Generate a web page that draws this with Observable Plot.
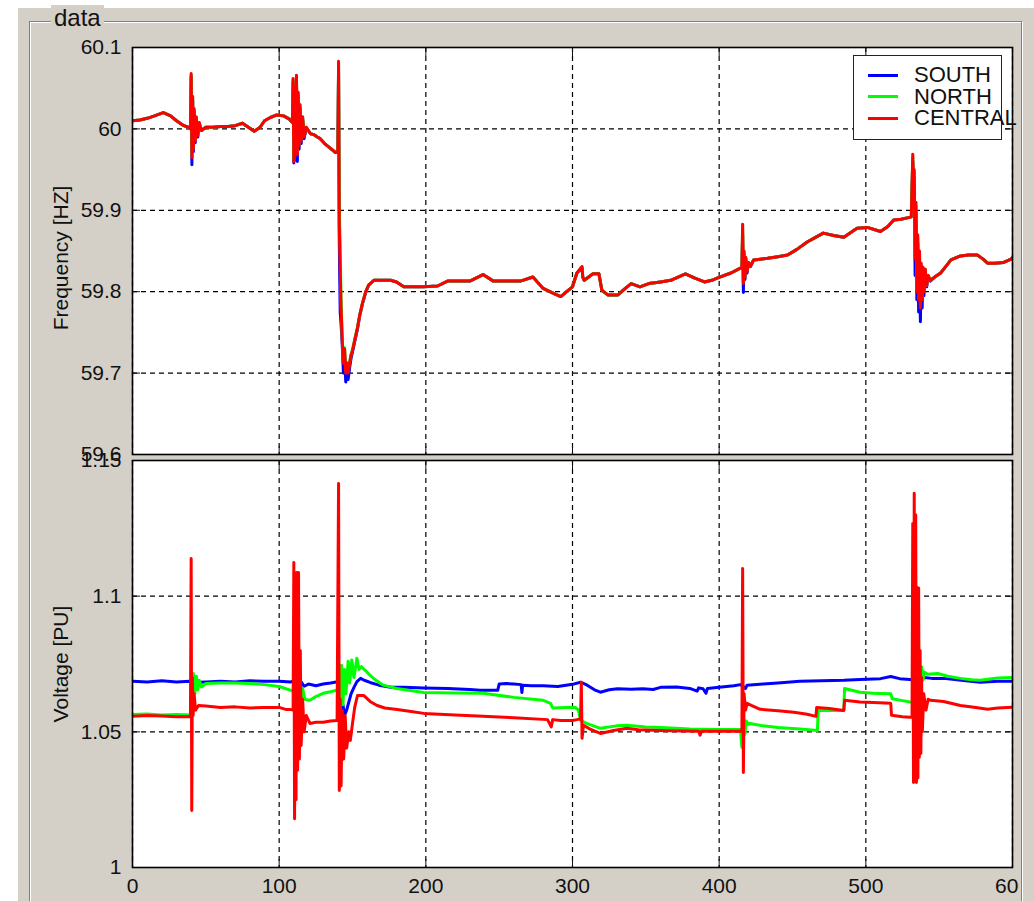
<!DOCTYPE html>
<html>
<head>
<meta charset="utf-8">
<script src="https://cdn.jsdelivr.net/npm/d3@7"></script>
<script src="https://cdn.jsdelivr.net/npm/@observablehq/plot@0.6"></script>
<style>
  html, body { margin: 0; padding: 0; background: #fff; }
  #root { position: relative; width: 1034px; height: 901px; overflow: hidden; background: #fff;
          font-family: "Liberation Sans", Arial, sans-serif; }
  #panel { position: absolute; left: 18px; top: 8px; right: 0; bottom: 0; background: #d4d0c8; }
  #group { position: absolute; left: 29px; top: 21px; width: 991px; height: 900px;
           border: 1px solid #808080; box-shadow: inset 1px 1px 0 #fff, 1px 1px 0 #fff; }
  #grouplabel { position: absolute; left: 51px; top: 5px; padding: 0 3px; background: #d4d0c8;
                font-size: 24px; line-height: 26px; color: #111; }
  #clip { position: absolute; left: 0; top: 0; width: 1019px; height: 901px; overflow: hidden; }
  .plot { position: absolute; left: 0; max-width: none !important; }
  .ylab { position: absolute; font-size: 21px; color: #111; white-space: nowrap;
          transform-origin: center center; }
  #legend { position: absolute; left: 853px; top: 55px; width: 147px; height: 83px;
            background: #fff; border: 1.5px solid #222; }
  .li { position: absolute; left: 60px; font-size: 22px; line-height: 20px; color: #111; white-space: nowrap; }
  .sw { position: absolute; left: 14px; width: 30px; height: 3px; }
</style>
</head>
<body>
<div id="root">
  <div id="panel"></div>
  <div id="group"></div>
  <div id="grouplabel">data</div>
  <div id="clip"></div>
</div>
<script>
// ---------------- data ----------------
const seriesNames = ["SOUTH", "NORTH", "CENTRAL"];
const seriesColors = ["#0000ff", "#00ff00", "#ff0000"];

const xTicks = [0, 100, 200, 300, 400, 500, 600];
const xTickLabels = ["0", "100", "200", "300", "400", "500", "600"];
const freqTicks = [59.6, 59.7, 59.8, 59.9, 60, 60.1];
const freqTickLabels = ["59.6", "59.7", "59.8", "59.9", "60", "60.1"];
const voltTicks = [1, 1.05, 1.1, 1.15];
const voltTickLabels = ["1", "1.05", "1.1", "1.15"];

// Frequency [HZ] - sample times (shared by the three regions)
const freqTime = [
  0,5,10,15,21,26,30,35,38,39.5,
  40,40.5,41,41.5,42,42.8,43.5,44.5,45.5,47,
  50,55,60,65,70,75,79,83,87,90,94,98,103,107,
  109,109.5,110,110.6,111.2,111.8,112.4,113,113.6,114.2,115,116,117,118.5,
  121.4,123.5,126,128,131,135,138.4,
  140,140.5,141,141.6,142.2,143,143.8,144.6,145.4,146.2,
  147,148,149,150,151.7,153.4,155,156.8,159,161,164.6,176,180,185,192,198.6,208,214.8,230,239,246,258,264.5,273,280,287,292,296,300,303,
  306.5,307,308,314,318,320,324,331,336,340,346,352,360,367,372,377,383,390,395,399,408,414.5,
  415.5,416,416.5,417,417.6,418.2,419,420,421.5,
  423.5,428,433,440,446.6,453,460,466,471,478,485,494,501,510,515,519,524,529,531,
  532,532.5,533,533.6,534.2,534.8,535.4,536,536.6,537.2,537.8,538.4,539,539.6,
  540.5,541.5,542.5,544,547,551,555,558,564.5,570,576,580,583,588,594,599,600];
// CENTRAL
const freqCentral = [
  60.010,60.011,60.013,60.016,60.020,60.016,60.010,60.004,60.002,60.000,
  60.068,59.965,60.040,59.975,60.025,59.985,60.015,59.992,60.008,59.998,
  60.002,60.002,60.003,60.003,60.004,60.007,60.002,59.997,60.002,60.010,60.014,60.017,60.016,60.012,
  60.008,60.062,59.960,60.050,59.970,60.066,59.968,60.045,59.980,60.030,59.985,60.015,59.990,60.002,
  59.994,59.993,59.990,59.988,59.982,59.976,59.971,
  59.972,60.083,59.880,59.830,59.780,59.740,59.712,59.730,59.700,59.712,
  59.700,59.712,59.722,59.728,59.742,59.756,59.772,59.786,59.800,59.808,59.814,59.814,59.812,59.806,59.806,59.806,59.807,59.813,59.813,59.821,59.813,59.813,59.813,59.818,59.804,59.798,59.794,59.800,59.806,59.823,
  59.831,59.818,59.814,59.822,59.822,59.802,59.796,59.796,59.804,59.810,59.806,59.810,59.812,59.814,59.818,59.822,59.817,59.812,59.814,59.817,59.823,59.829,
  59.830,59.883,59.810,59.850,59.818,59.842,59.825,59.836,59.832,
  59.839,59.840,59.841,59.843,59.845,59.852,59.861,59.867,59.872,59.869,59.867,59.878,59.879,59.874,59.880,59.888,59.889,59.891,59.892,
  59.969,59.930,59.950,59.840,59.910,59.800,59.870,59.790,59.850,59.780,59.835,59.790,59.830,59.800,
  59.828,59.808,59.820,59.814,59.818,59.823,59.832,59.839,59.844,59.845,59.845,59.840,59.835,59.835,59.836,59.840,59.842];
// SOUTH (dips a little deeper during the disturbances)
const freqSouth = [
  60.010,60.011,60.013,60.016,60.020,60.016,60.010,60.004,60.002,60.000,
  60.064,59.956,60.036,59.972,60.022,59.983,60.012,59.990,60.006,59.998,
  60.002,60.002,60.003,60.003,60.004,60.007,60.002,59.997,60.002,60.010,60.014,60.017,60.016,60.012,
  60.008,60.058,59.958,60.046,59.962,60.060,59.960,60.040,59.975,60.026,59.982,60.012,59.988,60.001,
  59.994,59.993,59.990,59.988,59.982,59.976,59.971,
  59.972,60.070,59.860,59.775,59.760,59.735,59.700,59.722,59.689,59.705,
  59.692,59.706,59.718,59.726,59.740,59.754,59.771,59.785,59.799,59.808,59.814,59.814,59.812,59.806,59.806,59.806,59.807,59.813,59.813,59.821,59.813,59.813,59.813,59.818,59.804,59.798,59.794,59.800,59.806,59.823,
  59.829,59.818,59.814,59.822,59.822,59.802,59.796,59.796,59.804,59.810,59.806,59.810,59.812,59.814,59.818,59.822,59.817,59.812,59.814,59.817,59.823,59.829,
  59.829,59.870,59.799,59.845,59.815,59.838,59.823,59.834,59.831,
  59.839,59.840,59.841,59.843,59.845,59.852,59.861,59.867,59.872,59.869,59.867,59.878,59.879,59.874,59.880,59.888,59.889,59.891,59.892,
  59.960,59.920,59.940,59.820,59.900,59.790,59.860,59.775,59.840,59.763,59.825,59.780,59.822,59.795,
  59.824,59.806,59.818,59.813,59.818,59.823,59.832,59.839,59.844,59.845,59.845,59.840,59.835,59.835,59.836,59.840,59.842];
// NORTH
const freqNorth = [
  60.010,60.011,60.013,60.016,60.020,60.016,60.010,60.004,60.002,60.000,
  60.066,59.967,60.038,59.976,60.024,59.986,60.014,59.993,60.007,59.998,
  60.002,60.002,60.003,60.003,60.004,60.007,60.002,59.997,60.002,60.010,60.014,60.017,60.016,60.012,
  60.008,60.060,59.962,60.048,59.972,60.064,59.970,60.043,59.981,60.029,59.986,60.014,59.991,60.002,
  59.994,59.993,59.990,59.988,59.982,59.976,59.971,
  59.972,60.078,59.900,59.860,59.790,59.745,59.714,59.731,59.703,59.713,
  59.702,59.713,59.723,59.729,59.743,59.756,59.772,59.786,59.800,59.808,59.814,59.814,59.812,59.806,59.806,59.806,59.807,59.813,59.813,59.821,59.813,59.813,59.813,59.818,59.804,59.798,59.794,59.800,59.806,59.823,
  59.830,59.818,59.814,59.822,59.822,59.802,59.796,59.796,59.804,59.810,59.806,59.810,59.812,59.814,59.818,59.822,59.817,59.812,59.814,59.817,59.823,59.829,
  59.830,59.878,59.812,59.848,59.819,59.841,59.826,59.836,59.832,
  59.839,59.840,59.841,59.843,59.845,59.852,59.861,59.867,59.872,59.869,59.867,59.878,59.879,59.874,59.880,59.888,59.889,59.891,59.892,
  59.965,59.928,59.946,59.842,59.905,59.802,59.866,59.792,59.846,59.784,59.832,59.792,59.828,59.801,
  59.827,59.808,59.820,59.814,59.818,59.823,59.832,59.839,59.844,59.845,59.845,59.840,59.835,59.835,59.836,59.840,59.842];

// Voltage [PU] - SOUTH
const voltSouthT = [0,10,20,30,39,41,50,60,70,80,90,100,108,111,113,115,117,120,125,130,135,139,140.5,141.5,142.5,143.5,144.5,146,147.5,149,151,153,155.5,158,162,168,176,185,198.6,215,230,237,249,250,255,260,265,265.5,266,272,280,290,300,305.5,310,315,319,325,330.7,340,348,355,360,371,380,385,386,389,391,392,400,410,414.5,416,418,419,430,440,455,470,485,496,510,517,523,530,535,540,545,553,565,578,590,600];
const voltSouthV = [1.0686,1.0684,1.0688,1.0684,1.0686,1.0682,1.0684,1.0686,1.0684,1.0688,1.0686,1.0686,1.0684,1.0690,1.0672,1.0684,1.0668,1.0676,1.0670,1.0676,1.0680,1.0684,1.0682,1.0560,1.0545,1.0600,1.0560,1.0580,1.0610,1.0640,1.0664,1.0685,1.0697,1.0690,1.0682,1.0672,1.0664,1.0664,1.0662,1.0660,1.0656,1.0653,1.0653,1.0676,1.0678,1.0676,1.0674,1.0645,1.0672,1.0670,1.0670,1.0667,1.0675,1.0683,1.0672,1.0655,1.0646,1.0655,1.0659,1.0657,1.0659,1.0656,1.0664,1.0665,1.0660,1.0650,1.0662,1.0659,1.0642,1.0660,1.0664,1.0670,1.0674,1.0668,1.0660,1.0672,1.0676,1.0680,1.0686,1.0688,1.0690,1.0693,1.0696,1.0704,1.0696,1.0693,1.0690,1.0700,1.0697,1.0697,1.0690,1.0683,1.0686,1.0686];

// Voltage [PU] - NORTH
const voltNorthT = [0,10,20,30,39,40.5,41.5,42.5,43.5,44.5,45.5,47,50,60,70,80,90,100,108,110,112,113,114,115,116,117.5,121,125,130,135,139,140.5,141.2,142.5,143.5,144.5,145.5,147,148,149.5,151,153,154.5,156,159,162,166,171,180,198.6,220,239,260,280,285,286.5,296,302,304,305.5,310,319,330,337,350,360,380,399,414.5,415.5,416.5,417.5,418.5,420,421,430,440,455,467,467.5,480,485,485.5,496,505,517,518,525,530,534,536,537,538,539,540,542,549,556,564.5,572,578,590,600];
const voltNorthV = [1.0564,1.0566,1.0562,1.0564,1.0562,1.0560,1.0715,1.0640,1.0705,1.0655,1.0690,1.0665,1.0678,1.0680,1.0680,1.0678,1.0674,1.0667,1.0653,1.0650,1.0690,1.0620,1.0680,1.0625,1.0660,1.0620,1.0616,1.0630,1.0642,1.0648,1.0653,1.0655,1.0542,1.0745,1.0600,1.0730,1.0640,1.0760,1.0680,1.0765,1.0700,1.0771,1.0730,1.0740,1.0725,1.0708,1.0690,1.0672,1.0660,1.0645,1.0643,1.0642,1.0627,1.0616,1.0605,1.0588,1.0590,1.0590,1.0580,1.0542,1.0530,1.0513,1.0522,1.0524,1.0518,1.0516,1.0510,1.0509,1.0509,1.0443,1.0560,1.0490,1.0540,1.0528,1.0531,1.0522,1.0516,1.0510,1.0505,1.0579,1.0579,1.0579,1.0660,1.0646,1.0642,1.0640,1.0622,1.0615,1.0610,1.0608,1.0745,1.0680,1.0740,1.0690,1.0720,1.0712,1.0715,1.0705,1.0697,1.0692,1.0690,1.0698,1.0700];

// Voltage [PU] - CENTRAL
const voltCentralT = [0,10,20,30,38,39.5,40,40.4,40.8,41.3,42,43,45,50,60,70,80,90,100,105,108,109.5,110,110.5,111,111.5,112,112.6,113.2,113.8,114.4,115,116,117,118.5,121,125,130,135,139.5,140.5,141,141.6,142.2,143,144,145,146,147.5,148.5,150,151.5,153.4,157.6,162,166.8,172,180.5,190,198.6,220,239,260,283,285.5,286.5,292,296,300,303,305.5,306,306.5,307.5,312,319,328,337,345,360,375,386,387,388,400,414.5,415.5,416,416.5,417,418,419,423,428,440,451,460,466,466.5,475,485,485.5,496,505,517,517.5,525,530,531.5,532,532.5,533,533.5,534,534.5,535,535.5,536,536.5,537,537.5,538,538.5,539.5,541,542.5,544,553,564.5,575,583,590,600];
const voltCentralV = [1.0557,1.0560,1.0558,1.0556,1.0556,1.0556,1.1139,1.0210,1.0700,1.0560,1.0640,1.0580,1.0597,1.0595,1.0590,1.0592,1.0588,1.0590,1.0590,1.0582,1.0582,1.0580,1.1124,1.0180,1.1000,1.0250,1.1087,1.0358,1.1087,1.0400,1.0800,1.0450,1.0620,1.0500,1.0560,1.0531,1.0535,1.0535,1.0540,1.0542,1.1415,1.0284,1.0620,1.0300,1.0580,1.0400,1.0560,1.0440,1.0500,1.0468,1.0531,1.0590,1.0634,1.0634,1.0612,1.0597,1.0588,1.0582,1.0575,1.0568,1.0562,1.0557,1.0552,1.0545,1.0518,1.0545,1.0542,1.0542,1.0542,1.0545,1.0548,1.0683,1.0476,1.0524,1.0510,1.0494,1.0505,1.0513,1.0508,1.0505,1.0503,1.0502,1.0488,1.0502,1.0502,1.0502,1.0502,1.1102,1.0350,1.0640,1.0580,1.0605,1.0595,1.0583,1.0578,1.0572,1.0565,1.0557,1.0590,1.0586,1.0579,1.0616,1.0610,1.0608,1.0605,1.0561,1.0556,1.0554,1.0554,1.1268,1.0313,1.1379,1.0340,1.1300,1.0313,1.1032,1.0330,1.1030,1.0406,1.0800,1.0420,1.0700,1.0500,1.0640,1.0580,1.0620,1.0616,1.0612,1.0597,1.0590,1.0583,1.0588,1.0591];

// ---------------- build tables ----------------
function rows(name, ts, vs) { return ts.map((t, i) => ({t, v: vs[i], s: name})); }
const freqData = [
  ...rows("SOUTH", freqTime, freqSouth),
  ...rows("NORTH", freqTime, freqNorth),
  ...rows("CENTRAL", freqTime, freqCentral)
];
const voltData = [
  ...rows("SOUTH", voltSouthT, voltSouthV),
  ...rows("NORTH", voltNorthT, voltNorthV),
  ...rows("CENTRAL", voltCentralT, voltCentralV)
];

const FONT = '"Liberation Sans", Arial, sans-serif';
const lab = (ticks, labels) => (d) => labels[ticks.indexOf(d)];

function panel(data, yDomain, yTicks, yLabels, height, mTop, mBottom, showX) {
  return Plot.plot({
    width: 1034, height, marginLeft: 132, marginRight: 22, marginTop: mTop, marginBottom: mBottom,
    x: {domain: [0, 600]},
    y: {domain: yDomain},
    color: {domain: seriesNames, range: seriesColors},
    style: {background: "transparent", fontFamily: FONT, fontSize: "21px", color: "#111", overflow: "visible", maxWidth: "none"},
    marks: [
      Plot.frame({fill: "#fff"}),
      Plot.gridX(xTicks, {stroke: "#000", strokeOpacity: 1, strokeWidth: 1.2, strokeDasharray: "5,4"}),
      Plot.gridY(yTicks, {stroke: "#000", strokeOpacity: 1, strokeWidth: 1.2, strokeDasharray: "5,4"}),
      Plot.axisX(xTicks, {anchor: "bottom", tickSize: -8, tickFormat: () => "", label: null}),
      Plot.axisX(xTicks, {anchor: "top", tickSize: -8, tickFormat: () => "", label: null}),
      Plot.axisY(yTicks, {anchor: "left", tickSize: -8, tickFormat: () => "", label: null}),
      Plot.axisY(yTicks, {anchor: "right", tickSize: -8, tickFormat: () => "", label: null}),
      Plot.axisY(yTicks, {anchor: "left", tickSize: 0, tickPadding: 11, tickFormat: lab(yTicks, yLabels), label: null}),
      showX ? Plot.axisX(xTicks, {anchor: "bottom", tickSize: 0, tickPadding: 11, tickFormat: lab(xTicks, xTickLabels), label: null}) : null,
      Plot.line(data, {x: "t", y: "v", z: "s", stroke: "s", strokeWidth: 3, strokeLinejoin: "round", clip: true}),
      Plot.frame({stroke: "#000", strokeWidth: 1.6})
    ]
  });
}

const clipBox = document.getElementById("clip");
const freqPlot = panel(freqData, [59.6, 60.1], freqTicks, freqTickLabels, 460, 47, 6, false);
freqPlot.classList.add("plot"); freqPlot.style.top = "0px"; freqPlot.style.maxWidth = "none";
const voltPlot = panel(voltData, [1, 1.15], voltTicks, voltTickLabels, 461, 20, 34, true);
voltPlot.classList.add("plot"); voltPlot.style.top = "440px"; voltPlot.style.maxWidth = "none";
clipBox.appendChild(freqPlot);
clipBox.appendChild(voltPlot);

// axis titles
function ylab(text, cx, cy) {
  const d = document.createElement("div");
  d.className = "ylab"; d.textContent = text;
  clipBox.appendChild(d);
  const w = d.offsetWidth, h = d.offsetHeight;
  d.style.left = (cx - w / 2) + "px"; d.style.top = (cy - h / 2) + "px";
  d.style.transform = "rotate(-90deg)";
}
ylab("Frequency [HZ]", 61, 258);
ylab("Voltage [PU]", 61, 664);

// legend
const leg = document.createElement("div");
leg.id = "legend";
seriesNames.forEach((n, i) => {
  const sw = document.createElement("div");
  sw.className = "sw"; sw.style.background = seriesColors[i];
  sw.style.top = (17.5 + i * 21.7) + "px";
  leg.appendChild(sw);
  const t = document.createElement("div");
  t.className = "li"; t.textContent = n;
  t.style.top = (9 + i * 21.7) + "px";
  leg.appendChild(t);
});
clipBox.appendChild(leg);
</script>
</body>
</html>
